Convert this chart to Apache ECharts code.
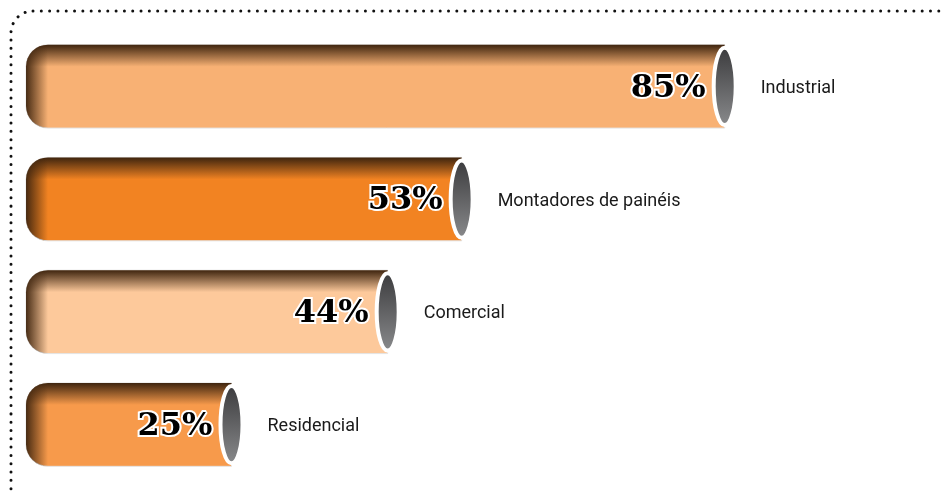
<!DOCTYPE html>
<html>
<head>
<meta charset="utf-8">
<script src="https://cdn.jsdelivr.net/npm/echarts@6/dist/echarts.min.js"></script>
<style>
  html, body { margin: 0; padding: 0; background: #fff; }
  #chart { width: 945px; height: 493px; }
</style>
</head>
<body>
<div id="chart"></div>
<script>
// dados
const categories = ['Industrial', 'Montadores de painéis', 'Comercial', 'Residencial']
const values = [85, 53, 44, 25]
const barColors = ['#F8B174', '#F28322', '#FDC99B', '#F79A4B']

const chart = echarts.init(document.getElementById('chart'))

function renderBar (params, api) {
  const idx = params.dataIndex
  const val = api.value(0)
  const start = api.coord([0, idx])
  const end = api.coord([val, idx])
  const h = api.size([0, 1])[1] * 0.74
  const x0 = start[0]
  const x1 = end[0]
  const y = start[1] - h / 2
  const w = x1 - x0
  const shade = 'rgba(62,36,14,'
  const r = [22, 0, 0, 22]
  return {
    type: 'group',
    children: [
      // corpo
      {
        type: 'rect',
        shape: { x: x0, y: y, width: w, height: h, r: r },
        style: { fill: barColors[idx], stroke: '#e4e4e4', lineWidth: 1 }
      },
      // sombra superior
      {
        type: 'rect',
        shape: { x: x0, y: y, width: w, height: h, r: r },
        style: {
          fill: {
            type: 'linear', x: 0, y: y, x2: 0, y2: y + 22, global: true,
            colorStops: [
              { offset: 0, color: shade + '1)' },
              { offset: 1, color: shade + '0)' }
            ]
          }
        }
      },
      // sombra esquerda
      {
        type: 'rect',
        shape: { x: x0, y: y, width: w, height: h, r: r },
        style: {
          fill: {
            type: 'linear', x: x0, y: 0, x2: x0 + 22, y2: 0, global: true,
            colorStops: [
              { offset: 0, color: shade + '0.95)' },
              { offset: 1, color: shade + '0)' }
            ]
          }
        }
      },
      // tampa
      {
        type: 'ellipse',
        shape: { cx: x1, cy: start[1], rx: 11, ry: h / 2 - 3 },
        style: {
          fill: {
            type: 'linear', x: 0, y: 0, x2: 0, y2: 1,
            colorStops: [
              { offset: 0, color: '#3a3a3c' },
              { offset: 1, color: '#8a8b8d' }
            ]
          },
          stroke: '#fff',
          lineWidth: 4
        }
      },
      // percentual
      {
        type: 'text',
        style: {
          x: x1 - 19,
          y: start[1] + 2,
          text: val + '%',
          align: 'right',
          verticalAlign: 'middle',
          font: 'bold 32px "DejaVu Serif"',
          fill: '#000',
          stroke: '#fff',
          lineWidth: 4
        }
      },
      // categoria
      {
        type: 'text',
        style: {
          x: x1 + 36,
          y: start[1] + 2,
          text: categories[idx],
          align: 'left',
          verticalAlign: 'middle',
          font: '18px "Roboto"',
          fill: '#1a1a1a'
        }
      }
    ]
  }
}

const option = {
  backgroundColor: '#fff',
  animation: false,
  grid: { left: 26, right: 97, top: 30, bottom: 12 },
  xAxis: { type: 'value', min: 0, max: 100, show: false },
  yAxis: { type: 'category', data: categories, inverse: true, show: false },
  graphic: [
    {
      // moldura pontilhada
      type: 'rect',
      shape: { x: 11, y: 11, width: 1200, height: 1200, r: 22 },
      style: {
        fill: 'none',
        stroke: '#111',
        lineWidth: 3,
        lineDash: [0.01, 8.3],
        lineCap: 'round'
      },
      silent: true
    }
  ],
  series: [
    {
      type: 'custom',
      renderItem: renderBar,
      encode: { x: 0, y: 1 },
      data: values.map((v, i) => [v, i]),
      clip: false
    }
  ]
}

chart.setOption(option)
</script>
</body>
</html>
